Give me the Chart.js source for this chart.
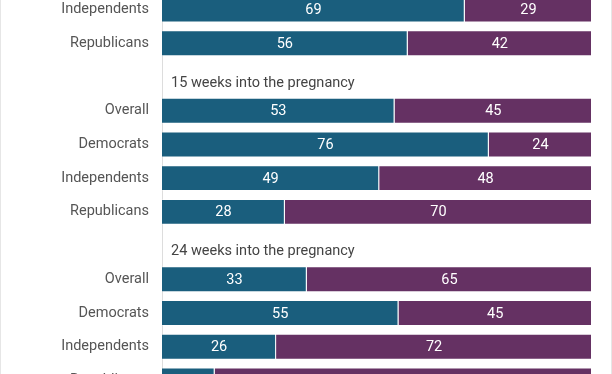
<!DOCTYPE html>
<html>
<head>
<meta charset="utf-8">
<script src="https://cdn.jsdelivr.net/npm/chart.js@4"></script>
<style>
  html, body { margin: 0; padding: 0; background: #fff; }
  body { width: 612px; height: 374px; overflow: hidden; position: relative; }
  .frame { position: absolute; top: 0; bottom: 0; left: 0; right: 0;
           border-left: 1px solid #e6e6e6; border-right: 1px solid #e6e6e6; pointer-events: none; }
  /* the axis keeps ~21px above and below the rows for label padding */
  #wrap { position: absolute; left: 0; top: -29px; width: 612px; height: 448px; }
</style>
</head>
<body>
<div id="wrap"><canvas id="barChart"></canvas></div>
<div class="frame"></div>
<script>
/* ---------------------------
   Data
---------------------------- */
const rowLabels = [
    "Independents", "Republicans",
    "",
    "Overall", "Democrats", "Independents", "Republicans",
    "",
    "Overall", "Democrats", "Independents", "Republicans"
];
const headerRows = [2, 7];
const headerTitles = ["15 weeks into the pregnancy", "24 weeks into the pregnancy"];

const legalValues   = [69, 56, null, 53, 76, 49, 28, null, 33, 55, 26, 12];
const illegalValues = [29, 42, null, 45, 24, 48, 70, null, 65, 45, 72, 86];

const blue = "#1a5e7d";
const purple = "#653163";

// bars are drawn as a share of the answered total, so they all reach the same end
const share = (v, i) => v == null ? null : v / (legalValues[i] + illegalValues[i]) * 100;

/* ---------------------------
   Plugins: values + group headers
---------------------------- */
const valueLabels = {
    id: "valueLabels",
    afterDatasetsDraw(chart) {
        const ctx = chart.ctx;
        ctx.save();
        ctx.font = "14.5px Roboto";
        ctx.fillStyle = "#ffffff";
        ctx.textAlign = "center";
        ctx.textBaseline = "middle";
        chart.data.datasets.forEach((ds, d) => {
            chart.getDatasetMeta(d).data.forEach((bar, i) => {
                const raw = ds.rawValues[i];
                if (raw == null) return;
                ctx.fillText(raw, (bar.base + bar.x) / 2, bar.y + 1);
            });
        });
        ctx.restore();
    }
};

const groupHeaders = {
    id: "groupHeaders",
    afterDraw(chart) {
        const ctx = chart.ctx;
        const y = chart.scales.y;
        ctx.save();
        ctx.font = "14.5px Roboto";
        ctx.fillStyle = "#444444";
        ctx.textAlign = "left";
        ctx.textBaseline = "middle";
        headerRows.forEach((row, k) => {
            ctx.fillText(headerTitles[k], chart.chartArea.left + 9, y.getPixelForValue(row) + 6);
        });
        ctx.restore();
    }
};

/* ---------------------------
   Chart
---------------------------- */
const ctx = document.getElementById("barChart").getContext("2d");

new Chart(ctx, {
    type: "bar",
    data: {
        labels: rowLabels,
        datasets: [
            {
                label: "Legal",
                data: legalValues.map(share),
                rawValues: legalValues,
                backgroundColor: blue,
                borderColor: "rgba(255,255,255,0.25)",
                borderWidth: 1
            },
            {
                label: "Illegal",
                data: illegalValues.map(share),
                rawValues: illegalValues,
                backgroundColor: purple,
                borderColor: "rgba(255,255,255,0.25)",
                borderWidth: 1
            }
        ]
    },
    options: {
        indexAxis: "y",
        responsive: true,
        maintainAspectRatio: false,
        animation: false,
        layout: { padding: { left: 0, right: 20, top: 0, bottom: 0 } },
        datasets: {
            bar: { barPercentage: 1, categoryPercentage: 0.77 }
        },
        scales: {
            x: {
                stacked: true,
                min: 0,
                max: 100,
                display: false
            },
            y: {
                stacked: true,
                grid: { display: false, drawTicks: false },
                border: { display: true, color: "#dddddd", width: 1 },
                ticks: {
                    color: "#555555",
                    font: { family: "Roboto", size: 14.5 },
                    padding: 13
                },
                afterFit: scale => { scale.width = 162; }
            }
        },
        plugins: {
            legend: { display: false },
            tooltip: { enabled: false }
        }
    },
    plugins: [valueLabels, groupHeaders]
});
</script>
</body>
</html>
